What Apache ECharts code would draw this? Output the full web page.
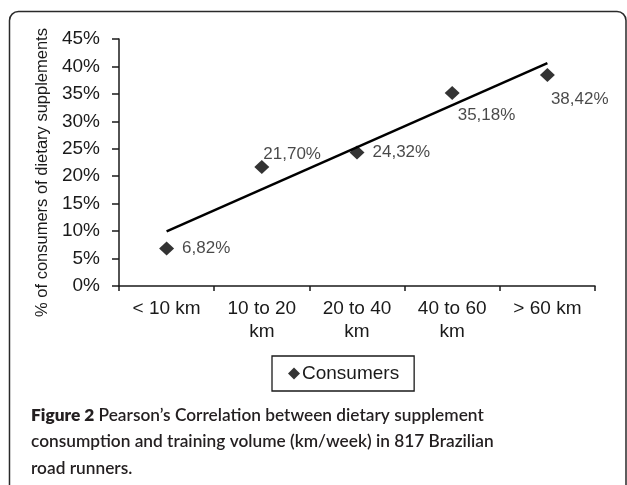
<!DOCTYPE html>
<html>
<head>
<meta charset="utf-8">
<script src="https://cdn.jsdelivr.net/npm/echarts@6/dist/echarts.min.js"></script>
<style>
html,body{margin:0;padding:0;background:#fff;}
#chart{width:627px;height:485px;}
</style>
</head>
<body>
<div id="chart"></div>
<script>
// ---- data ----
const categories = ['< 10 km', '10 to 20\nkm', '20 to 40\nkm', '40 to 60\nkm', '> 60 km'];
const consumers = [6.82, 21.70, 24.32, 35.18, 38.42];
// fitted trend line end values as drawn (first and last category)
const trendEnds = [9.95, 40.62];
const yMin = 0, yMax = 45, yStep = 5;
const seriesName = 'Consumers';
const yTitle = '% of consumers of dietary supplements';
const captionBold = 'Figure 2';
const captionText = ' Pearson\u2019s Correlation between dietary supplement\nconsumption and training volume (km/week) in 817 Brazilian\nroad runners.';

// ---- styling ----
const FONT = '"Liberation Sans", Arial, sans-serif';
const INK = '#1a1a1a';
const labelPlacements = [
  {position: 'right', distance: 8},
  {position: [9, -6]},
  {position: 'right', distance: 8},
  {position: [13, 29]},
  {position: [11, 31]}
];

const trendData = categories.map((c, i) => i === 0 ? trendEnds[0] : (i === categories.length - 1 ? trendEnds[1] : null));

const chart = echarts.init(document.getElementById('chart'));
chart.setOption({
  animation: false,
  backgroundColor: '#ffffff',
  grid: {left: 119, right: 32, top: 39, bottom: 199},
  xAxis: {
    type: 'category',
    data: categories,
    boundaryGap: true,
    axisLine: {show: true, lineStyle: {color: INK, width: 1.5}},
    axisTick: {show: true, length: 5, alignWithLabel: false, lineStyle: {color: INK, width: 1.5}},
    axisLabel: {interval: 0, fontFamily: FONT, fontSize: 19, lineHeight: 23, color: INK, margin: 11},
    splitLine: {show: false}
  },
  yAxis: {
    type: 'value',
    min: yMin, max: yMax, interval: yStep,
    axisLine: {show: true, lineStyle: {color: INK, width: 1.5}},
    axisTick: {show: true, length: 7, lineStyle: {color: INK, width: 1.5}},
    axisLabel: {formatter: v => v + '%', fontFamily: FONT, fontSize: 19, color: INK, margin: 19},
    splitLine: {show: false},
    name: yTitle,
    nameLocation: 'middle',
    nameGap: 68,
    nameTextStyle: {fontFamily: FONT, fontSize: 16.5, color: INK, padding: [0, 20, 0, 0]}
  },
  legend: {
    data: [seriesName],
    left: 272, top: 356,
    icon: 'diamond',
    itemWidth: 12, itemHeight: 12,
    borderColor: INK, borderWidth: 1.3, borderRadius: 0,
    padding: [8, 15, 8, 16],
    selectedMode: false,
    textStyle: {fontFamily: FONT, fontSize: 19, color: INK, padding: [0, 0, 0, -3]}
  },
  series: [
    {
      name: 'Trend',
      type: 'line',
      data: trendData,
      connectNulls: true,
      symbol: 'none',
      lineStyle: {color: '#000', width: 2.5},
      z: 2
    },
    {
      name: seriesName,
      type: 'scatter',
      symbol: 'diamond',
      symbolSize: [15, 14],
      itemStyle: {color: '#000'},
      data: consumers.map((v, i) => ({
        value: v,
        label: Object.assign({
          show: true,
          align: 'left',
          verticalAlign: 'middle',
          formatter: p => p.value.toFixed(2).replace('.', ',') + '%',
          fontFamily: FONT, fontSize: 17, color: INK
        }, labelPlacements[i])
      })),
      z: 3
    }
  ],
  graphic: [
    {
      type: 'rect',
      shape: {x: 9.5, y: 11.5, width: 616.5, height: 540, r: 9},
      style: {fill: 'none', stroke: '#2a2a2a', lineWidth: 1.5},
      silent: true
    },
    {
      type: 'text',
      left: 31, top: 402,
      style: {
        text: '{b|' + captionBold + '}' + captionText,
        fontFamily: 'Lato, "Open Sans", sans-serif',
        fontSize: 17.3,
        fontWeight: 600,
        lineHeight: 26.5,
        fill: '#231f20',
        rich: {
          b: {fontFamily: 'Lato, "Open Sans", sans-serif', fontSize: 17.3, fontWeight: 800, lineHeight: 26.5, fill: '#231f20'}
        }
      }
    }
  ]
});
</script>
</body>
</html>
